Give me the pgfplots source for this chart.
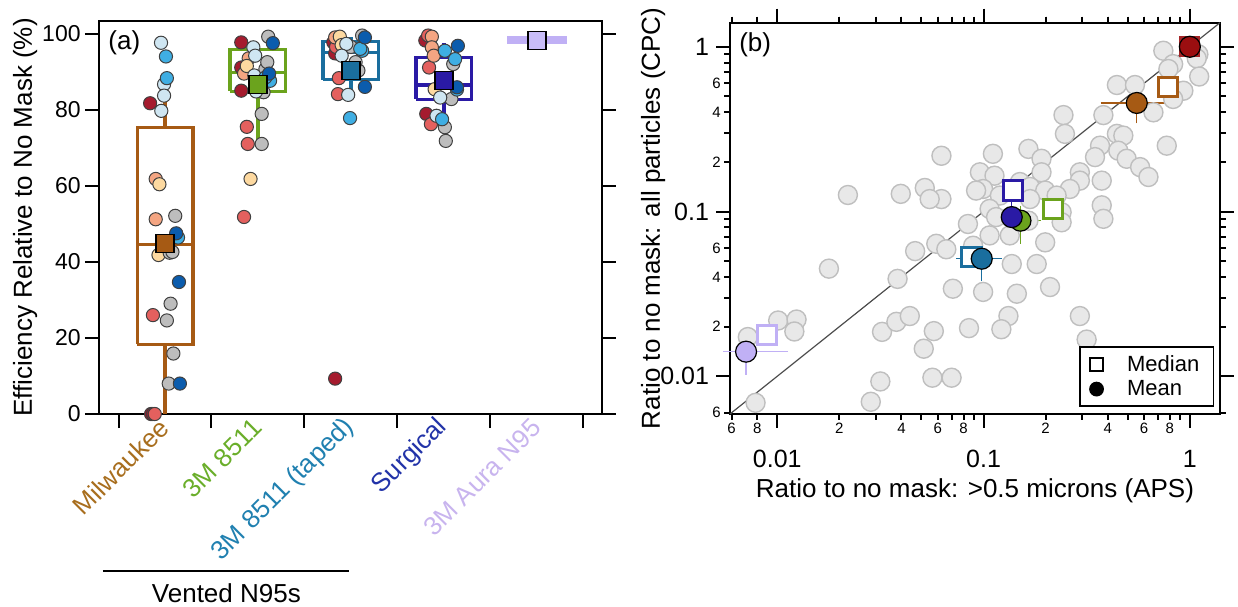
\documentclass[border=0pt]{standalone}
\usepackage{fontspec}
\setmainfont{Liberation Sans}
\usepackage{pgfplots}
\pgfplotsset{compat=1.18}
\definecolor{cDR}{HTML}{A51B2E}
\definecolor{cR}{HTML}{E4605E}
\definecolor{cLS}{HTML}{F4A582}
\definecolor{cPe}{HTML}{FDD9A0}
\definecolor{cG}{HTML}{BDBDBD}
\definecolor{cPB}{HTML}{CFE6F2}
\definecolor{cSB}{HTML}{3FAEE3}
\definecolor{cB}{HTML}{0B5CAD}
\definecolor{milw}{HTML}{A65A14}
\definecolor{milwL}{HTML}{A86E1E}
\definecolor{grn}{HTML}{6BA31D}
\definecolor{grnL}{HTML}{6AAE2A}
\definecolor{teal2}{HTML}{1A6E9E}
\definecolor{tealL}{HTML}{2080B0}
\definecolor{surg}{HTML}{2A1AA5}
\definecolor{surgL}{HTML}{2233A8}
\definecolor{aura}{HTML}{C0B0F5}
\definecolor{auraL}{HTML}{C8B4EE}
\definecolor{auraF}{HTML}{C9BDF8}
\definecolor{dred}{HTML}{9B0E10}
\pgfplotsset{boxln/.style={line width=1.6pt, line join=miter, mark=none}}
\begin{document}
\begin{tikzpicture}
\useasboundingbox (-49.5pt,-96pt) rectangle (569.5pt,207pt);
% ---------------- panel (a)
\begin{axis}[
  at={(0pt,0pt)}, anchor=south west,
  scale only axis, width=251.5pt, height=196.65pt,
  xmin=0.29, xmax=5.7, ymin=0, ymax=103.4,
  clip=false,
  axis line style={line width=1pt},
  tick style={line width=1pt, black},
  tick align=outside,
  major tick length=7pt,
  xtick={0.5,1.5,2.5,3.5,4.5,5.5}, xticklabels={},
  xtick pos=bottom,
  ytick={0,20,40,60,80,100},
  ytick pos=both, yticklabel pos=left,
  /pgf/number format/assume math mode=true,
  yticklabel style={font=\fontsize{11.5}{13}\selectfont, inner sep=2pt},
  extra x ticks={1,2,3,4,5},
  extra x tick labels={\textcolor{milwL}{Milwaukee},\textcolor{grnL}{3M 8511},\textcolor{tealL}{3M 8511 (taped)},\textcolor{surgL}{Surgical},\textcolor{auraL}{3M Aura N95}},
  extra x tick style={major tick length=0pt, tick label style={rotate=45, anchor=east, font=\fontsize{13}{15}\selectfont, yshift=-3pt}},
  ylabel={Efficiency Relative to No Mask (\%)},
  ylabel style={at={(axis description cs:-0.147,0.5)}, anchor=center, font=\fontsize{13}{15}\selectfont},
]
\addplot[only marks, mark=*, mark size=3.3pt, mark options={fill=cDR, draw=black!75, line width=0.5pt}] coordinates {
(0.84,81.7) (0.85,0) (0.87,0)
(1.82,97.7) (1.82,91.1) (1.82,85.0)
(2.81,97.7) (2.83,94.8) (2.83,9.3)
(3.80,98.2) (3.81,78.9)};
\addplot[only marks, mark=*, mark size=3.3pt, mark options={fill=cR, draw=black!75, line width=0.5pt}] coordinates {
(0.89,0) (0.87,26.0)
(1.88,75.5) (1.89,71.0) (1.85,51.8)
(2.87,88.3) (2.86,84.1) (2.84,96.5)
(3.83,99.5) (3.84,91.1) (3.86,76.2)};
\addplot[only marks, mark=*, mark size=3.3pt, mark options={fill=cLS, draw=black!75, line width=0.5pt}] coordinates {
(0.90,61.8) (0.90,51.2)
(1.90,93.5) (1.85,89.5)
(2.83,99.0)
(3.87,99.2) (3.87,96.4) (3.89,94.2)};
\addplot[only marks, mark=*, mark size=3.3pt, mark options={fill=cPe, draw=black!75, line width=0.5pt}] coordinates {
(0.94,60.4) (0.93,41.8)
(1.92,61.8) (1.88,91.5)
(2.88,99.2) (2.90,97.0)
(3.90,85.4)};
\addplot[only marks, mark=*, mark size=3.3pt, mark options={fill=cG, draw=black!75, line width=0.5pt}] coordinates {
(1.11,52.1) (1.05,42.4) (1.08,42.6) (1.06,29.0) (1.02,24.6) (1.09,15.9) (1.04,8.0)
(2.11,99.2) (2.08,90.7) (2.06,84.6) (2.04,78.9) (2.04,71.0) (2.10,92.5)
(3.12,99.5) (3.00,96.5) (3.08,90.3) (3.05,92.5)
(4.10,92.0) (4.08,82.8) (4.01,75.4) (4.02,71.8)};
\addplot[only marks, mark=*, mark size=3.3pt, mark options={fill=cPB, draw=black!75, line width=0.5pt}] coordinates {
(0.957,97.6) (0.99,86.7) (0.99,83.7) (0.96,79.7)
(1.95,96.4) (1.97,94.2) (1.96,89.0) (1.98,84.8)
(2.95,97.3) (2.90,94.2) (2.97,83.9)
(3.96,83.2) (3.92,78.4)};
\addplot[only marks, mark=*, mark size=3.3pt, mark options={fill=cSB, draw=black!75, line width=0.5pt}] coordinates {
(1.01,94.0) (1.02,88.3) (1.14,46.4)
(2.13,87.6) (2.08,88.5)
(3.12,95.5) (2.99,77.8) (3.10,96.0)
(4.01,95.5) (4.12,93.3) (4.14,85.3) (3.98,77.5)};
\addplot[only marks, mark=*, mark size=3.3pt, mark options={fill=cB, draw=black!75, line width=0.5pt}] coordinates {
(1.12,47.5) (1.15,34.7) (1.16,8.0)
(2.16,97.5) (2.12,89.5)
(3.15,99.0) (3.15,86.0)
(4.15,96.8) (4.14,85.9)};
% boxes (Milwaukee)
\addplot[boxln, milw] coordinates {(0.7,18.3) (1.3,18.3) (1.3,75.3) (0.7,75.3) (0.7,18.3)};
\addplot[boxln, milw] coordinates {(0.7,44.5) (1.3,44.5)};
\addplot[boxln, milw] coordinates {(1,0) (1,18.3)};
\addplot[boxln, milw] coordinates {(1,75.3) (1,88.3)};
% 3M 8511
\addplot[boxln, grn] coordinates {(1.7,84.8) (2.3,84.8) (2.3,95.8) (1.7,95.8) (1.7,84.8)};
\addplot[boxln, grn] coordinates {(1.7,89.8) (2.3,89.8)};
\addplot[boxln, grn] coordinates {(2,70.5) (2,84.8)};
\addplot[boxln, grn] coordinates {(2,95.8) (2,97.3)};
% taped
\addplot[boxln, teal2] coordinates {(2.7,87.9) (3.3,87.9) (3.3,97.9) (2.7,97.9) (2.7,87.9)};
\addplot[boxln, teal2] coordinates {(2.7,95.1) (3.3,95.1)};
\addplot[boxln, teal2] coordinates {(3,83.3) (3,87.9)};
\addplot[boxln, teal2] coordinates {(3,97.9) (3,99.0)};
% surgical
\addplot[boxln, surg] coordinates {(3.7,82.7) (4.3,82.7) (4.3,93.8) (3.7,93.8) (3.7,82.7)};
\addplot[boxln, surg] coordinates {(3.7,86.5) (4.3,86.5)};
\addplot[boxln, surg] coordinates {(4,76.6) (4,82.7)};
\addplot[boxln, surg] coordinates {(4,93.8) (4,97.5)};
% aura
\addplot[aura, line width=4pt, mark=none] coordinates {(4.68,98.3) (5.32,98.3)};
% means
\addplot[only marks, mark=square*, mark size=4.5pt, mark options={fill=milw, draw=black, line width=0.6pt}] coordinates {(1,44.8)};
\addplot[only marks, mark=square*, mark size=4.5pt, mark options={fill=grn, draw=black, line width=0.6pt}] coordinates {(2,86.7)};
\addplot[only marks, mark=square*, mark size=4.5pt, mark options={fill=teal2, draw=black, line width=0.6pt}] coordinates {(3,90.3)};
\addplot[only marks, mark=square*, mark size=4.5pt, mark options={fill=surg, draw=black, line width=0.6pt}] coordinates {(4,87.6)};
\addplot[only marks, mark=square*, mark size=4.5pt, mark options={fill=auraF, draw=black, line width=0.6pt}] coordinates {(5,98.3)};
\node[anchor=north west, font=\fontsize{13}{15}\selectfont, inner sep=2pt] at (rel axis cs:0.01,0.985) {(a)};
\draw[line width=1pt] (axis cs:0.333,-41.3) -- (axis cs:2.98,-41.3);
\node[anchor=center, font=\fontsize{13}{15}\selectfont] at (axis cs:1.66,-47) {Vented N95s};
\end{axis}
% ---------------- panel (b)
\begin{axis}[
  at={(315.5pt,0pt)}, anchor=south west,
  scale only axis, width=245pt, height=195.65pt,
  xmode=log, ymode=log,
  xmin=0.0059, xmax=1.4, ymin=0.0059, ymax=1.4,
  clip=false,
  axis line style={line width=1pt},
  tick style={line width=1pt, black},
  tick align=outside,
  major tick length=7pt, minor tick length=3pt,
  xtick={0.01,0.1,1}, xticklabels={\rule{0pt}{16pt}0.01,\rule{0pt}{16pt}0.1,\rule{0pt}{16pt}1},
  ytick={0.01,0.1,1}, yticklabels={0.01,0.1,1},
  xtick pos=both, ytick pos=both, xticklabel pos=bottom, yticklabel pos=left,
  tick label style={font=\fontsize{12.5}{14}\selectfont},
  extra x ticks={0.006,0.008,0.02,0.04,0.06,0.08,0.2,0.4,0.6,0.8},
  extra x tick labels={6,8,2,4,6,8,2,4,6,8},
  extra y ticks={0.006,0.02,0.04,0.06,0.2,0.4,0.6},
  extra y tick labels={6,2,4,6,2,4,6},
  extra x tick style={major tick length=3pt, tick label style={font=\fontsize{7.5}{8}\selectfont, inner sep=1.5pt}},
  extra y tick style={major tick length=3pt, tick label style={font=\fontsize{7.5}{8}\selectfont, inner sep=1.5pt}},
  xlabel={Ratio to no mask: >0.5 microns (APS)},
  ylabel={Ratio to no mask: all particles (CPC)},
  xlabel style={at={(axis description cs:0.5,-0.195)}, anchor=center, font=\fontsize{13}{15}\selectfont},
  ylabel style={at={(axis description cs:-0.157,0.5)}, anchor=center, font=\fontsize{13}{15}\selectfont},
  legend style={at={(0.988,0.018)}, anchor=south east, draw=black, line width=0.8pt, font=\fontsize{11}{12}\selectfont, inner xsep=5pt, inner ysep=2pt, row sep=-1pt},
  legend cell align=left,
]
\addlegendimage{only marks, mark=square, mark size=3.2pt, mark options={line width=1pt, black}}
\addlegendentry{\hspace{10pt}Median}
\addlegendimage{only marks, mark=*, mark size=3.3pt, mark options={black}}
\addlegendentry{\hspace{10pt}Mean}
\addplot[only marks, mark=*, mark size=4.75pt, mark options={fill=black!9, draw=black!25, line width=0.7pt}] coordinates {
(0.744,0.946) (0.83,0.785) (0.787,0.733) (1.10,0.90) (1.08,0.85) (1.11,0.66)
(0.443,0.586) (0.542,0.586) (0.93,0.541) (0.83,0.482) (0.666,0.40) (0.381,0.385)
(0.244,0.385) (0.248,0.296) (0.443,0.296) (0.476,0.289) (0.367,0.251) (0.773,0.251)
(0.45,0.234) (0.494,0.209) (0.347,0.214) (0.574,0.186) (0.63,0.162) (0.165,0.24)
(0.191,0.209) (0.191,0.173) (0.111,0.224) (0.0625,0.218) (0.096,0.173) (0.113,0.165)
(0.293,0.173) (0.293,0.154) (0.262,0.137) (0.374,0.154) (0.0995,0.137) (0.092,0.134)
(0.15,0.151) (0.168,0.141) (0.199,0.134) (0.0625,0.119) (0.12,0.125)
(0.226,0.125) (0.168,0.119) (0.374,0.109) (0.239,0.099) (0.239,0.086) (0.381,0.0903)
(0.107,0.1037) (0.115,0.0925) (0.165,0.088) (0.084,0.084) (0.107,0.0716) (0.134,0.0716)
(0.199,0.065) (0.059,0.0637) (0.066,0.059) (0.089,0.062) (0.137,0.048) (0.181,0.048)
(0.071,0.034) (0.0995,0.0325) (0.145,0.0317) (0.21,0.0348) (0.132,0.0232) (0.122,0.0193)
(0.085,0.0196) (0.07,0.0098) (0.293,0.0232) (0.316,0.0167)
(0.0072,0.0173) (0.0101,0.0218) (0.0124,0.0221) (0.0121,0.0187) (0.00785,0.0069)
(0.0322,0.0186) (0.0378,0.0214) (0.0439,0.0232) (0.0574,0.0188) (0.0513,0.0147)
(0.0316,0.0093) (0.0284,0.007) (0.0565,0.0098) (0.022,0.126) (0.0397,0.128) (0.0519,0.139)
(0.0548,0.119) (0.0178,0.045) (0.0466,0.0575) (0.0383,0.039)};
\addplot[black!70, line width=0.6pt, mark=none] coordinates {(0.0059,0.0059) (1.4,1.4)};
% medians
\addplot[only marks, mark=square*, mark size=4.8pt, mark options={fill=white, draw=milw, line width=1.5pt}] coordinates {(0.787,0.567)};
\addplot[only marks, mark=square*, mark size=4.8pt, mark options={fill=white, draw=surg, line width=1.5pt}] coordinates {(0.139,0.134)};
\addplot[only marks, mark=square*, mark size=4.8pt, mark options={fill=white, draw=grn, line width=1.5pt}] coordinates {(0.218,0.104)};
\addplot[only marks, mark=square*, mark size=4.8pt, mark options={fill=white, draw=teal2, line width=1.5pt}] coordinates {(0.0875,0.053)};
\addplot[only marks, mark=square*, mark size=4.8pt, mark options={fill=white, draw=aura, line width=1.5pt}] coordinates {(0.0089,0.0179)};
\addplot[only marks, mark=square*, mark size=5pt, mark options={fill=dred!90, draw=dred!90, line width=0.5pt}] coordinates {(1,1)};
% means
\addplot[only marks, mark=*, mark size=5.25pt, mark options={fill=milw, draw=black, line width=0.6pt},
  error bars/.cd, x dir=both, x explicit, y dir=both, y explicit,
  error bar style={color=milw, line width=0.7pt}, error mark options={color=milw, mark size=3pt, line width=0.7pt}]
  coordinates {(0.553,0.456) += (0.152,0.074) -= (0.158,0.083)};
\addplot[only marks, mark=*, mark size=5.25pt, mark options={fill=teal2, draw=black, line width=0.6pt},
  error bars/.cd, x dir=both, x explicit, y dir=both, y explicit,
  error bar style={color=teal2, line width=0.7pt}, error mark options={color=teal2, mark size=3pt, line width=0.7pt}]
  coordinates {(0.098,0.0517) += (0.017,0.0091) -= (0.019,0.0107)};
\addplot[only marks, mark=*, mark size=5.25pt, mark options={fill=grn, draw=black, line width=0.6pt},
  error bars/.cd, x dir=both, x explicit, y dir=both, y explicit,
  error bar style={color=grn, line width=0.7pt}, error mark options={color=grn, mark size=3pt, line width=0.7pt}]
  coordinates {(0.151,0.088) += (0.027,0.012) -= (0.038,0.0185)};
\addplot[only marks, mark=*, mark size=5.25pt, mark options={fill=surg, draw=black, line width=0.6pt},
  error bars/.cd, x dir=both, x explicit, y dir=both, y explicit,
  error bar style={color=surg, line width=0.7pt}, error mark options={color=surg, mark size=3pt, line width=0.7pt}]
  coordinates {(0.137,0.0925) += (0.013,0.0135) -= (0.026,0.014)};
\addplot[only marks, mark=*, mark size=5.25pt, mark options={fill=aura, draw=black, line width=0.6pt},
  error bars/.cd, x dir=both, x explicit, y dir=both, y explicit,
  error bar style={color=aura, line width=0.7pt}, error mark options={color=aura, mark size=3pt, line width=0.7pt}]
  coordinates {(0.00706,0.0141) += (0.0035,0.002) -= (0.0012,0.003)};
\addplot[only marks, mark=*, mark size=5.25pt, mark options={fill=dred, draw=black, line width=0.6pt}] coordinates {(1,1)};
\node[anchor=north west, font=\fontsize{13}{15}\selectfont, inner sep=2pt] at (rel axis cs:0.01,0.985) {(b)};
\end{axis}
\end{tikzpicture}
\end{document}
